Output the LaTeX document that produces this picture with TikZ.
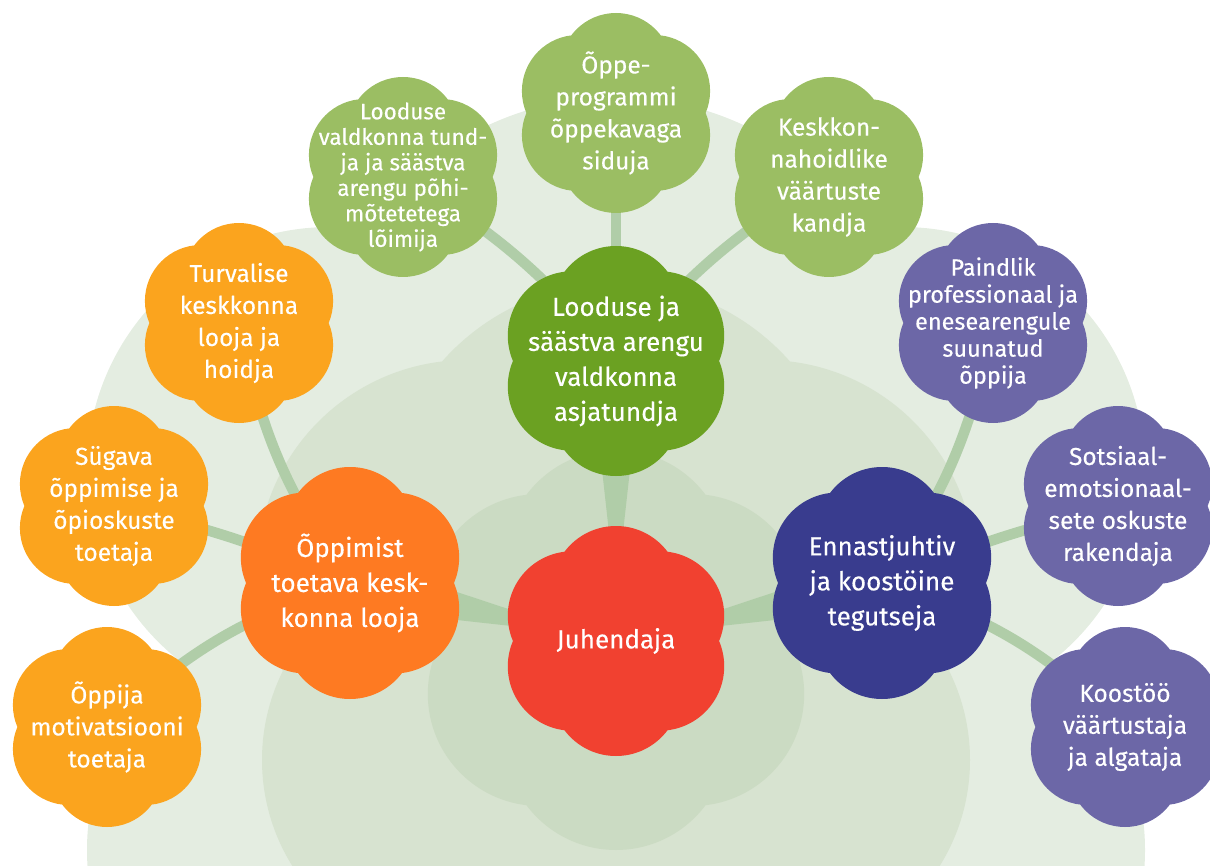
\documentclass[tikz,border=0pt]{standalone}
\usepackage{fontspec}
\setmainfont{Fira Sans}[FakeBold=0.25]
\usetikzlibrary{calc}
\pgfdeclarelayer{bglayer}
\pgfdeclarelayer{connlayer}
\pgfdeclarelayer{cloudlayer}
\pgfsetlayers{bglayer,connlayer,cloudlayer,main}
\definecolor{bgOuter}{HTML}{E4EDE1}
\definecolor{bgMid}{HTML}{D7E3D0}
\definecolor{bgInner}{HTML}{CBDBC3}
\definecolor{connC}{HTML}{B0CDA8}
\definecolor{cRed}{HTML}{F14130}
\definecolor{cDkGreen}{HTML}{6BA122}
\definecolor{cOrange}{HTML}{FE7A22}
\definecolor{cNavy}{HTML}{393C8E}
\definecolor{cLtGreen}{HTML}{9BBE63}
\definecolor{cAmber}{HTML}{FBA41E}
\definecolor{cPurple}{HTML}{6C67A7}

% six-lobed cloud around a named point: #1 name, #2 colour, #3 size
\newcommand\cloudfill[3]{%
  \fill[#2] ($(#1)+(0,{-0.44*#3})$) circle[radius={0.56*#3pt}]
    ($(#1)+({0.381*#3},{-0.22*#3})$) circle[radius={0.56*#3pt}]
    ($(#1)+({0.381*#3},{0.22*#3})$) circle[radius={0.56*#3pt}]
    ($(#1)+(0,{0.44*#3})$) circle[radius={0.56*#3pt}]
    ($(#1)+({-0.381*#3},{0.22*#3})$) circle[radius={0.56*#3pt}]
    ($(#1)+({-0.381*#3},{-0.22*#3})$) circle[radius={0.56*#3pt}];
}
% tapered connector: from #1 to #2, narrow half-width #4 at distance #3, wide half-width #6 at distance #5
\newcommand\taper[6]{%
  \coordinate (tpA) at ($(#1)!#3pt!(#2)$);
  \coordinate (tpB) at ($(#1)!#5pt!(#2)$);
  \fill[connC] ($(tpA)!#4pt!90:(#2)$) -- ($(tpB)!#6pt!90:(#2)$)
    -- ($(tpB)!#6pt!-90:(#2)$) -- ($(tpA)!#4pt!-90:(#2)$) -- cycle;
}

\tikzset{
  txt/.style={text=white, align=center, inner sep=0pt},
  bigtxt/.style={txt, font=\fontsize{26}{35}\selectfont},
  midtxt/.style={txt, font=\fontsize{24.5}{32}\selectfont},
  smalltxt/.style={txt, font=\fontsize{22.5}{25.5}\selectfont},
  subconn/.style={draw=connC, line width=10.5pt},
}

\begin{document}
\begin{tikzpicture}[x=1pt, y=-1pt]
\useasboundingbox (0,0) rectangle (1210,866);

% text nodes
\node[bigtxt] (jh) at (616,641) {Juhendaja};
\node[bigtxt] (lo) at (616,361) {Looduse ja\\säästva arengu\\valdkonna\\asjatundja};
\node[bigtxt] (oe) at (350,583) {Õppimist\\toetava kesk-\\konna looja};
\node[bigtxt] (en) at (882,583) {Ennastjuhtiv\\ja koostöine\\tegutseja};
\node[midtxt] (op) at (616,113) {Õppe-\\programmi\\õppekavaga\\siduja};
\node[smalltxt] (li) at (403,177) {Looduse\\valdkonna tund-\\ja ja säästva\\arengu põhi-\\mõtetetega\\lõimija};
\node[midtxt] (ke) at (829,177) {Keskkon-\\nahoidlike\\väärtuste\\kandja};
\node[midtxt] (tu) at (239,323) {Turvalise\\keskkonna\\looja ja\\hoidja};
\node[smalltxt, font=\fontsize{23.5}{27}\selectfont] (pa) at (993,323) {Paindlik\\professionaal ja\\enesearengule\\suunatud\\õppija};
\node[midtxt] (sg) at (114,506) {Sügava\\õppimise ja\\õpioskuste\\toetaja};
\node[midtxt] (so) at (1118,506) {Sotsiaal-\\emotsionaal-\\sete oskuste\\rakendaja};
\node[midtxt] (om) at (107,727) {Õppija\\motivatsiooni\\toetaja};
\node[midtxt] (ko) at (1125,727) {Koostöö\\väärtustaja\\ja algataja};
\coordinate (bgc) at (616,650);

% background
\begin{pgfonlayer}{bglayer}
  \fill[bgOuter] (616,400) circle[radius=303pt] (330,470) circle[radius=243pt]
    (902,470) circle[radius=243pt] (330,850) circle[radius=243pt]
    (902,850) circle[radius=243pt] (616,720) circle[radius=420pt];
  \fill[bgMid] (616,515) circle[radius=232pt] (467,570) circle[radius=210pt]
    (765,570) circle[radius=210pt] (462,760) circle[radius=200pt]
    (770,760) circle[radius=200pt] (616,760) circle[radius=250pt];
  \cloudfill{bgc}{bgInner}{200}
\end{pgfonlayer}

% connectors
\begin{pgfonlayer}{connlayer}
  \taper{jh}{lo}{95}{5.5}{185}{15.5}
  \taper{jh}{oe}{90}{6}{185}{16}
  \taper{jh}{en}{90}{6}{185}{16}
  \draw[subconn] (lo.center) -- (op.center);
  \draw[subconn] (lo.center) to[bend right=10] (li.center);
  \draw[subconn] (lo.center) to[bend left=10] (ke.center);
  \draw[subconn] (oe.center) to[bend left=12] (tu.center);
  \draw[subconn] (oe.center) to[bend right=5] (sg.center);
  \draw[subconn] (oe.center) to[bend right=13] (om.center);
  \draw[subconn] (en.center) to[bend right=12] (pa.center);
  \draw[subconn] (en.center) to[bend left=5] (so.center);
  \draw[subconn] (en.center) to[bend left=13] (ko.center);
\end{pgfonlayer}

% clouds
\begin{pgfonlayer}{cloudlayer}
  \cloudfill{jh}{cRed}{115}
  \cloudfill{lo}{cDkGreen}{115}
  \cloudfill{oe}{cOrange}{116}
  \cloudfill{en}{cNavy}{116}
  \cloudfill{op}{cLtGreen}{100}
  \cloudfill{li}{cLtGreen}{100}
  \cloudfill{ke}{cLtGreen}{100}
  \cloudfill{tu}{cAmber}{100}
  \cloudfill{sg}{cAmber}{100}
  \cloudfill{om}{cAmber}{100}
  \cloudfill{pa}{cPurple}{100}
  \cloudfill{so}{cPurple}{100}
  \cloudfill{ko}{cPurple}{100}
\end{pgfonlayer}
\end{tikzpicture}
\end{document}
